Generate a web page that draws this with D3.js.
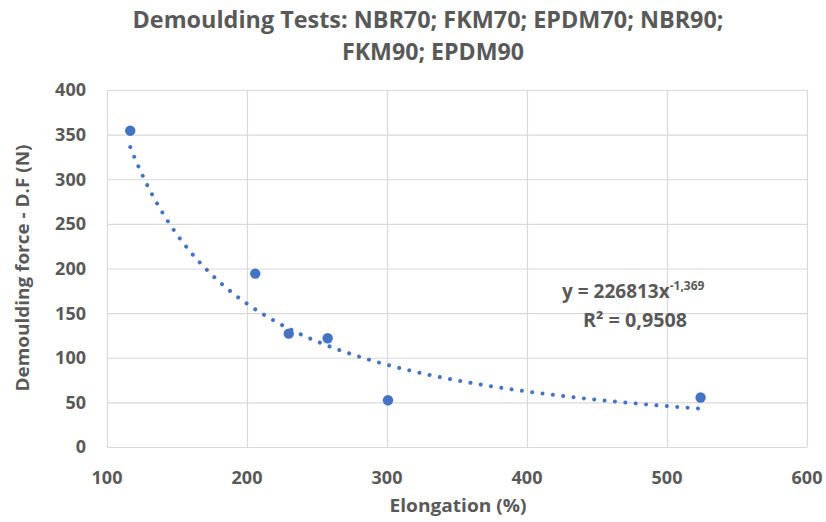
<!DOCTYPE html>
<html>
<head>
<meta charset="utf-8">
<script src="https://cdn.jsdelivr.net/npm/d3@7"></script>
<style>
  body { margin: 0; background: #fff; }
  text { font-family: "Open Sans", "Noto Sans", sans-serif; font-weight: bold; fill: #595959; }
</style>
</head>
<body>
<div id="chart"></div>
<script>
// measured samples
var elongation = [116.6, 205.9, 229.8, 257.6, 300.7, 524.0];
var force = [354.4, 194.3, 127.0, 121.9, 52.4, 55.5];

// power trendline as printed on the chart
var fitCoef = 226813;
var fitExp = -1.369;

var xTicks = [100, 200, 300, 400, 500, 600];
var yTicks = [0, 50, 100, 150, 200, 250, 300, 350, 400];

var titleLines = ["Demoulding Tests: NBR70; FKM70; EPDM70; NBR90;", "FKM90; EPDM90"];
var xTitle = "Elongation (%)";
var yTitle = "Demoulding force - D.F (N)";

var width = 826, height = 522;
var plotLeft = 107, plotRight = 807, plotTop = 90, plotBottom = 447;
var blue = "#4472c4", grid = "#d9d9d9";

var svg = d3.select("#chart")
    .append("svg")
    .attr("width", width)
    .attr("height", height);

var x = d3.scaleLinear().domain([100, 600]).range([plotLeft, plotRight]);
var y = d3.scaleLinear().domain([0, 400]).range([plotBottom, plotTop]);

// gridlines
svg.append("g")
    .selectAll("line")
    .data(yTicks)
    .enter()
    .append("line")
    .attr("x1", plotLeft).attr("x2", plotRight)
    .attr("y1", function(d) { return y(d) + 0.5; })
    .attr("y2", function(d) { return y(d) + 0.5; })
    .style("stroke", grid)
    .style("stroke-width", 1.2);

svg.append("g")
    .selectAll("line")
    .data(xTicks)
    .enter()
    .append("line")
    .attr("x1", function(d) { return x(d) + 0.5; })
    .attr("x2", function(d) { return x(d) + 0.5; })
    .attr("y1", plotTop).attr("y2", plotBottom)
    .style("stroke", grid)
    .style("stroke-width", 1.2);

// tick labels
svg.append("g")
    .selectAll("text")
    .data(xTicks)
    .enter()
    .append("text")
    .attr("x", function(d) { return x(d); })
    .attr("y", 484)
    .attr("text-anchor", "middle")
    .style("font-size", "18px")
    .text(function(d) { return d; });

svg.append("g")
    .selectAll("text")
    .data(yTicks)
    .enter()
    .append("text")
    .attr("x", 86)
    .attr("y", function(d) { return y(d); })
    .attr("dy", "0.36em")
    .attr("text-anchor", "end")
    .style("font-size", "18px")
    .text(function(d) { return d; });

// titles
svg.append("text")
    .attr("x", 428).attr("y", 28)
    .attr("text-anchor", "middle")
    .attr("textLength", 591).attr("lengthAdjust", "spacingAndGlyphs")
    .style("font-size", "23px")
    .text(titleLines[0]);
svg.append("text")
    .attr("x", 433).attr("y", 60)
    .attr("text-anchor", "middle")
    .attr("textLength", 182).attr("lengthAdjust", "spacingAndGlyphs")
    .style("font-size", "23px")
    .text(titleLines[1]);

svg.append("text")
    .attr("x", 458).attr("y", 512)
    .attr("text-anchor", "middle")
    .attr("textLength", 137).attr("lengthAdjust", "spacingAndGlyphs")
    .style("font-size", "18px")
    .text(xTitle);

svg.append("text")
    .attr("transform", "translate(29,268) rotate(-90)")
    .attr("text-anchor", "middle")
    .attr("textLength", 247).attr("lengthAdjust", "spacingAndGlyphs")
    .style("font-size", "18px")
    .text(yTitle);

// trendline from min to max elongation
var lo = d3.min(elongation), hi = d3.max(elongation);
var xs = d3.range(0, 201).map(function(i) {
    return lo + (hi - lo) * i / 200;
});
var line = d3.line()
    .x(function(d) { return x(d); })
    .y(function(d) { return y(fitCoef * Math.pow(d, fitExp)); })
    .curve(d3.curveLinear);

svg.append("path")
    .datum(xs)
    .attr("d", line)
    .style("fill", "none")
    .style("stroke", blue)
    .style("stroke-width", 4)
    .style("stroke-linecap", "round")
    .style("stroke-dasharray", "0.01 10.4");

// points
svg.append("g")
    .selectAll("circle")
    .data(elongation)
    .enter()
    .append("circle")
    .attr("cx", function(d) { return x(d); })
    .attr("cy", function(d, i) { return y(force[i]); })
    .attr("r", 5.2)
    .style("fill", blue);

// equation label
var eq = svg.append("text")
    .attr("x", 562).attr("y", 298)
    .style("font-size", "19px");
eq.append("tspan").text("y = " + fitCoef + "x");
eq.append("tspan")
    .attr("dy", -8)
    .style("font-size", "12px")
    .text(String(fitExp).replace(".", ","));

svg.append("text")
    .attr("x", 635).attr("y", 327)
    .attr("text-anchor", "middle")
    .attr("textLength", 104).attr("lengthAdjust", "spacingAndGlyphs")
    .style("font-size", "19px")
    .text("R\u00b2 = 0,9508");
</script>
</body>
</html>
